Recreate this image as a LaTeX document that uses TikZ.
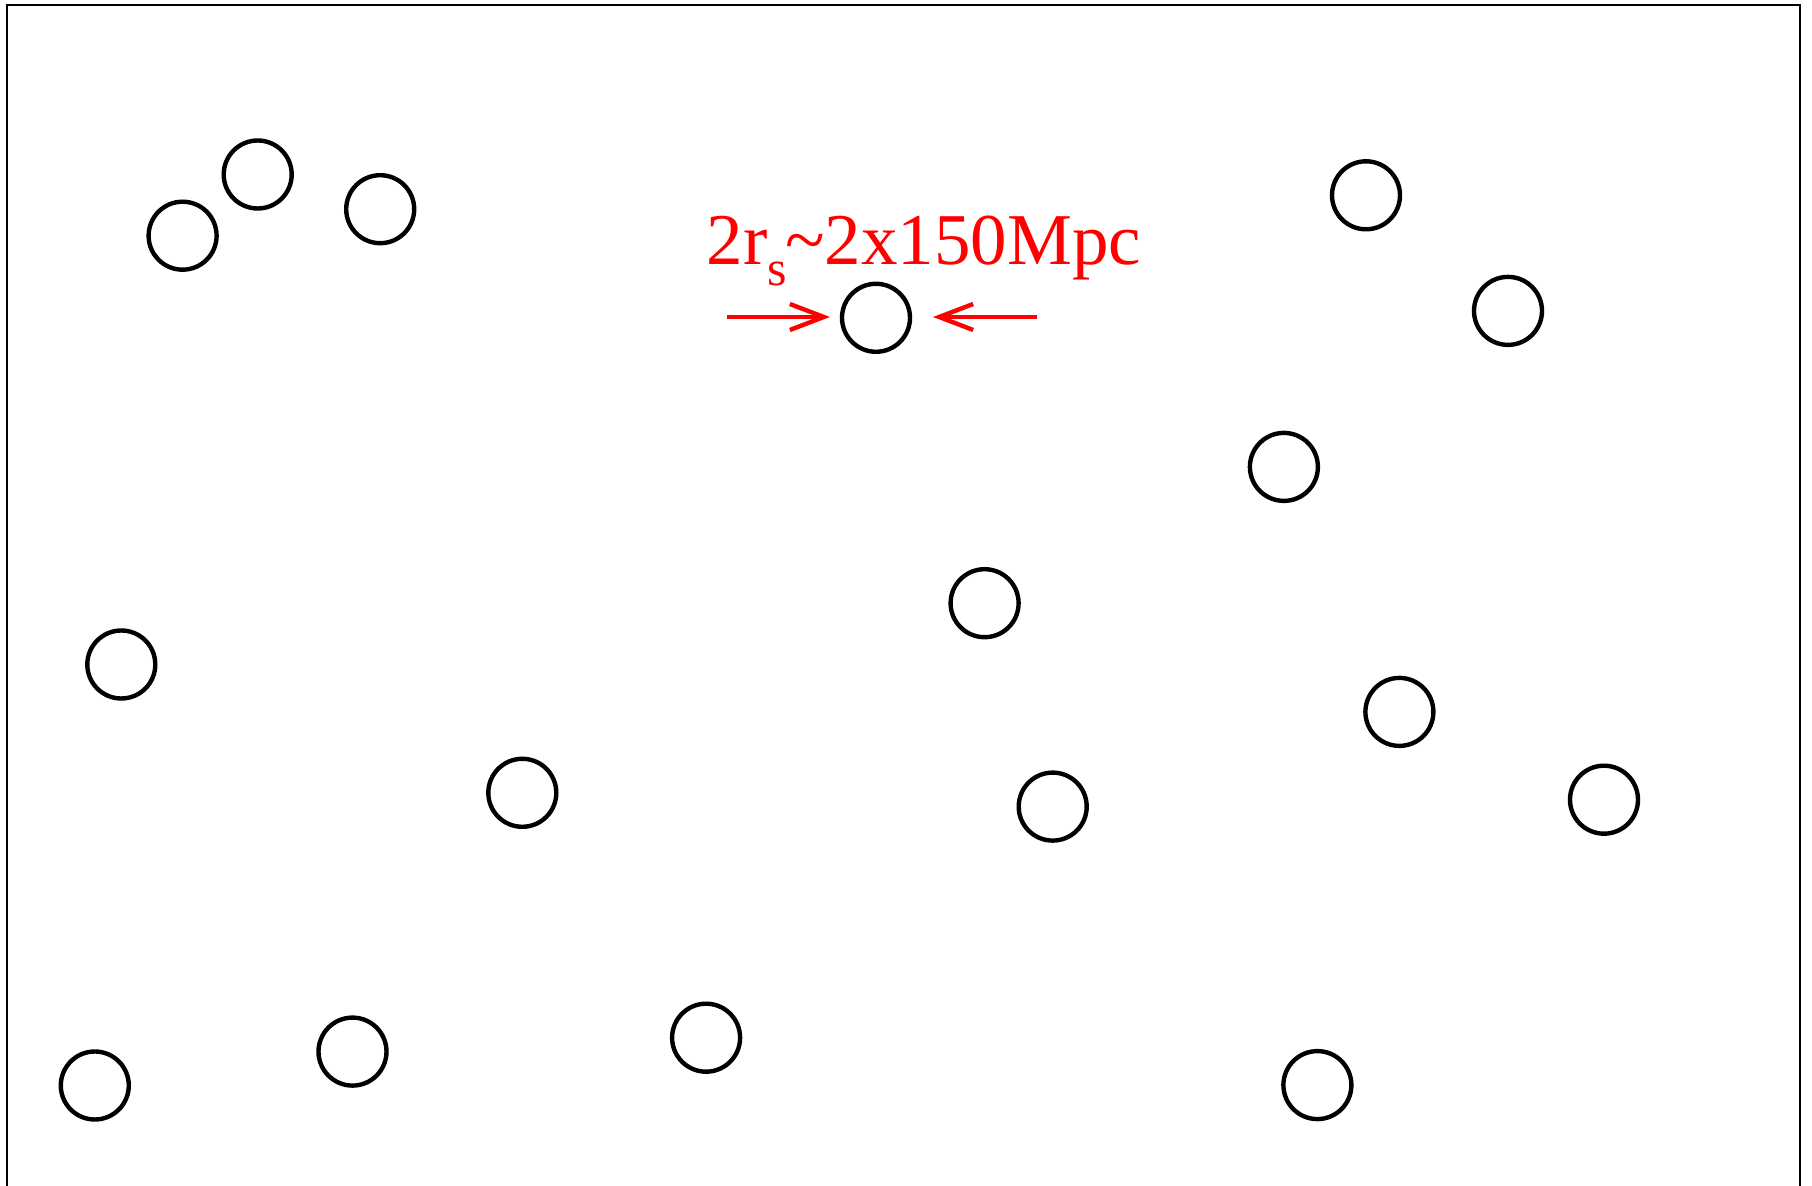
\documentclass[tikz,border=0pt]{standalone}
\usepackage{fontspec}
\setmainfont{Liberation Serif}
\usetikzlibrary{arrows.meta}
\begin{document}
\begin{tikzpicture}[x=0.5pt,y=-0.5pt,
  blob/.style={circle,draw=black,line width=2.2pt,minimum size=34pt,inner sep=0pt},
  redarrow/.style={draw=red,line width=2.2pt,-{Straight Barb[length=17pt,width=13pt,line width=2.2pt]}},
  frameline/.style={draw=black,line width=1pt}]
\useasboundingbox (0,0) rectangle (1812,1186);
\draw[frameline] (6.5,1200) -- (6.5,5) -- (1800,5) -- (1800,1200);
\node[blob] (c1) at (257.7,174.5) {};
\node[blob] (c2) at (182.6,235.7) {};
\node[blob] (c3) at (380.2,209.2) {};
\node[blob] (c4) at (876,317.8) {};
\node[blob] (c5) at (1366,195.3) {};
\node[blob] (c6) at (1508,310.9) {};
\node[blob] (c7) at (1283.9,466.9) {};
\node[blob] (c8) at (984.6,603.2) {};
\node[blob] (c9) at (121.3,664.5) {};
\node[blob] (c10) at (1399.4,711.9) {};
\node[blob] (c11) at (522.3,792.8) {};
\node[blob] (c12) at (1052.7,806.6) {};
\node[blob] (c13) at (1604,799.7) {};
\node[blob] (c14) at (94.8,1085.5) {};
\node[blob] (c15) at (352.5,1051.6) {};
\node[blob] (c16) at (706.1,1037.7) {};
\node[blob] (c17) at (1317.4,1085.1) {};
\coordinate (la) at (727,317);
\coordinate (lt) at (830,317);
\coordinate (ra) at (1037,317);
\coordinate (rt) at (933,317);
\draw[redarrow] (la) -- (lt);
\draw[redarrow] (ra) -- (rt);
\node[text=red,font=\fontsize{36.5pt}{40pt}\selectfont,anchor=base,inner sep=0pt] (lbl) at (924,265)
  {2r\raisebox{-10.5pt}{\fontsize{25pt}{26pt}\selectfont s}\kern-1pt\textasciitilde 2x150Mpc};
\end{tikzpicture}
\end{document}
